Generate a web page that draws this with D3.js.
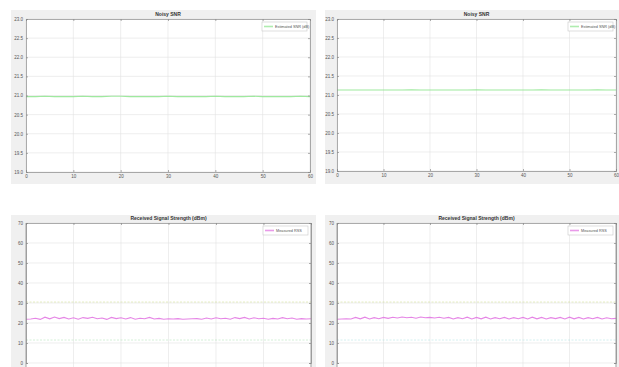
<!DOCTYPE html>
<html>
<head>
<meta charset="utf-8">
<script src="https://cdn.jsdelivr.net/npm/d3@7"></script>
<style>
  html, body { margin: 0; padding: 0; background: #fff; }
  svg { display: block; font-family: "Liberation Sans", Arial, sans-serif; }
</style>
</head>
<body>
<svg id="fig" width="619" height="367"></svg>
<script>
// ---- data ----
const timeTicks = [0, 10, 20, 30, 40, 50, 60];
const snrTicks = [19, 19.5, 20, 20.5, 21, 21.5, 22, 22.5, 23];
const rssTicks = [0, 10, 20, 30, 40, 50, 60, 70];

const sampleTimes = [0,2,4,6,8,10,12,14,16,18,20,22,24,26,28,30,32,34,36,38,40,42,44,46,48,50,52,54,56,58,60];

const snrNodeA = [20.97,20.97,20.98,20.97,20.97,20.97,20.98,20.97,20.97,20.98,20.98,20.97,20.97,20.97,20.97,20.98,20.97,20.97,20.97,20.97,20.98,20.97,20.97,20.97,20.98,20.97,20.97,20.97,20.97,20.98,20.97];
const snrNodeB = [21.13,21.13,21.13,21.13,21.13,21.13,21.13,21.13,21.14,21.13,21.13,21.13,21.13,21.13,21.13,21.14,21.13,21.13,21.13,21.13,21.13,21.13,21.14,21.13,21.13,21.13,21.13,21.13,21.14,21.13,21.13];

const rssTimes = [0,1,2,3,4,5,6,7,8,9,10,11,12,13,14,15,16,17,18,19,20,21,22,23,24,25,26,27,28,29,30,31,32,33,34,35,36,37,38,39,40,41,42,43,44,45,46,47,48,49,50,51,52,53,54,55,56,57,58,59,60];
const rssNodeA = [21.9,22.0,22.4,21.8,22.9,22.1,23.0,22.2,22.8,22.0,22.6,21.9,22.7,22.3,22.9,22.1,22.5,21.8,22.8,22.2,22.6,22.0,22.7,21.9,22.4,22.1,22.8,22.0,22.3,21.9,22.1,22.0,22.2,21.9,22.0,22.1,22.2,21.9,22.5,22.0,22.6,22.1,22.4,21.9,22.7,22.2,22.8,22.0,22.6,22.1,22.4,21.9,22.3,22.0,22.7,22.1,22.5,21.9,22.2,22.0,22.1];
const rssNodeB = [21.9,22.0,22.1,22.0,22.8,22.1,22.9,22.0,22.7,22.1,22.8,22.3,22.9,22.5,23.0,22.6,22.9,22.4,23.0,22.6,22.8,22.5,22.9,22.4,22.8,22.0,22.7,22.1,22.9,22.0,22.8,22.1,22.9,22.0,22.7,22.1,22.8,22.0,22.7,22.1,22.8,22.0,22.9,22.1,22.8,22.0,22.7,22.2,22.8,22.0,22.9,22.1,22.8,22.0,22.7,22.1,22.8,22.0,22.6,22.1,22.3];
const rssUpperLimit = 30.5;
const rssLowerLimit = 11.5;

// ---- panels ----
const svg = d3.select("#fig");

function panel(cfg) {
  const g = svg.append("g");
  g.append("rect").attr("x", cfg.bg[0]).attr("y", cfg.bg[1])
    .attr("width", cfg.bg[2]).attr("height", cfg.bg[3]).attr("fill", "#f0f0f0");

  const x = d3.scaleLinear().domain([timeTicks[0], timeTicks[timeTicks.length - 1]]).range([cfg.left, cfg.right]);
  const y = d3.scaleLinear().domain([cfg.yTicks[0], cfg.yTicks[cfg.yTicks.length - 1]]).range([cfg.bottom, cfg.top]);

  const plotBottom = cfg.plotBottom || cfg.bottom;
  g.append("rect").attr("x", cfg.left).attr("y", cfg.top)
    .attr("width", cfg.right - cfg.left).attr("height", plotBottom - cfg.top).attr("fill", "#fff");

  // grid
  g.append("g").selectAll("line").data(timeTicks).join("line")
    .attr("x1", d => x(d)).attr("x2", d => x(d)).attr("y1", cfg.top).attr("y2", plotBottom)
    .attr("stroke", "#e2e2e2").attr("stroke-width", 0.6);
  g.append("g").selectAll("line").data(cfg.yTicks).join("line")
    .attr("x1", cfg.left).attr("x2", cfg.right).attr("y1", d => y(d)).attr("y2", d => y(d))
    .attr("stroke", "#e2e2e2").attr("stroke-width", 0.6);

  const clipId = "clip" + cfg.id;
  g.append("clipPath").attr("id", clipId).append("rect")
    .attr("x", cfg.left).attr("y", cfg.top).attr("width", cfg.right - cfg.left).attr("height", plotBottom - cfg.top);
  const plot = g.append("g").attr("clip-path", `url(#${clipId})`);

  (cfg.refs || []).forEach(r => {
    plot.append("line").attr("x1", cfg.left).attr("x2", cfg.right)
      .attr("y1", y(r.value)).attr("y2", y(r.value))
      .attr("stroke", r.color).attr("stroke-width", 0.8).attr("stroke-dasharray", "2,1.5").attr("opacity", 0.55);
  });

  const line = d3.line().x((d, i) => x(cfg.xs[i])).y(d => y(d));
  plot.append("path").datum(cfg.values).attr("d", line)
    .attr("fill", "none").attr("stroke", cfg.color).attr("stroke-width", cfg.lineWidth).attr("opacity", 0.85);

  // axes (box with ticks on all sides)
  const tickLen = 2;
  const axisColor = "#8a8a8a";
  const axL = d3.axisLeft(y).tickValues(cfg.yTicks).tickSize(-tickLen).tickPadding(3).tickFormat(cfg.fmtY);
  const axR = d3.axisRight(y).tickValues(cfg.yTicks).tickSize(-tickLen).tickFormat("");
  const axB = d3.axisBottom(x).tickValues(timeTicks).tickSize(-tickLen).tickPadding(3);
  const axT = d3.axisTop(x).tickValues(timeTicks).tickSize(-tickLen).tickFormat("");
  [[axL, `translate(${cfg.left},0)`], [axR, `translate(${cfg.right},0)`],
   [axB, `translate(0,${cfg.bottom})`], [axT, `translate(0,${cfg.top})`]].forEach(([ax, tr], k) => {
    if (k === 2 && cfg.plotBottom) return;
    const a = g.append("g").attr("transform", tr).call(ax);
    a.selectAll("path").attr("stroke", axisColor).attr("stroke-width", 0.7);
    a.selectAll("line").attr("stroke", axisColor).attr("stroke-width", 0.7);
    a.selectAll("text").attr("fill", "#555").style("font-size", "4.5px");
  });
  if (cfg.plotBottom) {
    g.append("line").attr("x1", cfg.left).attr("x2", cfg.left).attr("y1", cfg.top).attr("y2", plotBottom)
      .attr("stroke", axisColor).attr("stroke-width", 0.7);
    g.append("line").attr("x1", cfg.right).attr("x2", cfg.right).attr("y1", cfg.top).attr("y2", plotBottom)
      .attr("stroke", axisColor).attr("stroke-width", 0.7);
  }

  // title
  g.append("text").attr("x", (cfg.left + cfg.right) / 2).attr("y", cfg.top - 3)
    .attr("text-anchor", "middle").attr("font-weight", "bold").attr("fill", "#333")
    .style("font-size", "5px").text(cfg.title);

  // legend
  const lg = g.append("g").attr("transform", `translate(${cfg.right - 48},${cfg.top + 3})`);
  lg.append("rect").attr("width", 45).attr("height", 9).attr("fill", "#fff")
    .attr("stroke", "#c8c8c8").attr("stroke-width", 0.6);
  lg.append("line").attr("x1", 2).attr("x2", 11).attr("y1", 4.5).attr("y2", 4.5)
    .attr("stroke", cfg.color).attr("stroke-width", 1.6).attr("opacity", 0.7);
  lg.append("text").attr("x", 13).attr("y", 6).attr("fill", "#555")
    .style("font-size", "3.8px").text(cfg.legend);
}

panel({
  id: "a", bg: [11, 10, 305, 174], left: 26, right: 310, top: 19, bottom: 172,
  yTicks: snrTicks, fmtY: d3.format(".1f"), xs: sampleTimes, values: snrNodeA,
  color: "#8ee58e", lineWidth: 1.1, title: "Noisy SNR", legend: "Estimated SNR (dB)"
});
panel({
  id: "b", bg: [325, 10, 294, 174], left: 337, right: 616, top: 19, bottom: 171,
  yTicks: snrTicks, fmtY: d3.format(".1f"), xs: sampleTimes, values: snrNodeB,
  color: "#8ee58e", lineWidth: 1.1, title: "Noisy SNR", legend: "Estimated SNR (dB)"
});
panel({
  id: "c", bg: [11, 215, 305, 152], left: 26, right: 311, top: 223, bottom: 363, plotBottom: 367,
  yTicks: rssTicks, fmtY: d3.format("d"), xs: rssTimes, values: rssNodeA,
  refs: [{ value: rssUpperLimit, color: "#c9dd7a" }, { value: rssLowerLimit, color: "#9fe0a8" }],
  color: "#e070e0", lineWidth: 1.1, title: "Received Signal Strength (dBm)", legend: "Measured RSS"
});
panel({
  id: "d", bg: [325, 215, 294, 152], left: 337, right: 616, top: 223, bottom: 363, plotBottom: 367,
  yTicks: rssTicks, fmtY: d3.format("d"), xs: rssTimes, values: rssNodeB,
  refs: [{ value: rssUpperLimit, color: "#c9dd7a" }, { value: rssLowerLimit, color: "#9fe0e0" }],
  color: "#e070e0", lineWidth: 1.1, title: "Received Signal Strength (dBm)", legend: "Measured RSS"
});
</script>
</body>
</html>
